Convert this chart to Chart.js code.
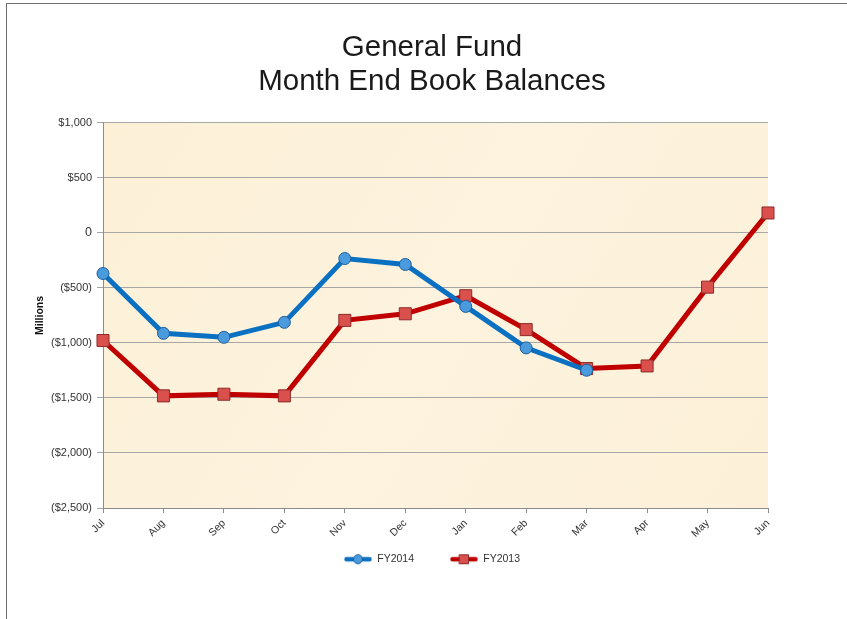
<!DOCTYPE html>
<html>
<head>
<meta charset="utf-8">
<title>General Fund - Month End Book Balances</title>
<script src="https://cdn.jsdelivr.net/npm/chart.js@4/dist/chart.umd.min.js"></script>
<style>
	body { margin: 0; background: #fff; }
	.moldura { position: absolute; left: 6px; top: 3px; width: 900px; height: 700px; border: 1px solid #6b6b6b; }
	.grafico { position: absolute; left: 0; top: 0; width: 847px; height: 619px; }
</style>
</head>
<body>
<div class="moldura"></div>
<div class="grafico"><canvas id="graficoSaldos" width="847" height="619"></canvas></div>
<script>
var meses = ['Jul', 'Aug', 'Sep', 'Oct', 'Nov', 'Dec', 'Jan', 'Feb', 'Mar', 'Apr', 'May', 'Jun'];
var fy2014 = [-369, -913, -949, -813, -233, -287, -668, -1045, -1248, null, null, null];
var fy2013 = [-978, -1481, -1466, -1481, -795, -735, -571, -879, -1233, -1209, -493, 181];
var eixoMin = -2500;
var eixoMax = 1000;
var eixoPasso = 500;

var GeneralFund = GeneralFund || {};

GeneralFund.GraficoSaldos = (function() {

	var fonte = 'Liberation Sans, Arial, sans-serif';

	function GraficoSaldos() {
		this.ctx = document.getElementById('graficoSaldos').getContext('2d');
	}

	GraficoSaldos.prototype.iniciar = function() {
		new Chart(this.ctx, {
			type: 'line',
			data: {
				labels: meses,
				datasets: [{
					label: 'FY2014',
					data: fy2014,
					borderColor: '#0a70c2',
					borderWidth: 5,
					pointStyle: 'circle',
					pointRadius: 6,
					pointBackgroundColor: '#4a9ade',
					pointBorderColor: '#1f5f98',
					pointBorderWidth: 1,
					tension: 0
				},
				{
					label: 'FY2013',
					data: fy2013,
					borderColor: '#c00000',
					borderWidth: 5,
					pointStyle: 'rect',
					pointRadius: 8.5,
					pointBackgroundColor: '#d9504d',
					pointBorderColor: '#8e2a2a',
					pointBorderWidth: 1,
					tension: 0
				}]
			},
			options: {
				responsive: false,
				animation: false,
				layout: { padding: { left: 17, right: 0, top: 3, bottom: 20 } },
				plugins: {
					title: {
						display: true,
						text: ['General Fund', 'Month End Book Balances'],
						color: '#1a1a1a',
						font: { family: fonte, size: 29.5, weight: 'normal', lineHeight: 1.15 },
						padding: { top: 28, bottom: 24 }
					},
					legend: {
						position: 'bottom',
						maxHeight: 56,
						labels: {
							usePointStyle: true,
							pointStyleWidth: 28,
							padding: 36,
							color: '#333',
							font: { family: fonte, size: 10.5 },
							generateLabels: geraLegenda
						}
					},
					tooltip: { enabled: false }
				},
				scales: {
					x: {
						offset: false,
						grid: { drawOnChartArea: false, drawTicks: true, tickLength: 5, color: '#8c8c8c' },
						border: { color: '#8c8c8c' },
						ticks: {
							minRotation: 45,
							maxRotation: 45,
							padding: 4,
							color: '#333',
							font: { family: fonte, size: 10.5 }
						},
						afterFit: function(scale) { scale.height = 35; }
					},
					y: {
						min: eixoMin,
						max: eixoMax,
						grid: { color: '#a6a6a6', tickLength: 6 },
						border: { color: '#8c8c8c' },
						title: {
							display: true,
							text: 'Millions',
							color: '#111',
							font: { family: fonte, size: 10.5, weight: 'bold' },
							padding: { top: 17, bottom: 0 }
						},
						ticks: {
							stepSize: eixoPasso,
							padding: 5,
							color: '#333',
							font: function(c) {
								return { family: fonte, size: (c.tick && c.tick.value === 0) ? 12.5 : 11 };
							},
							callback: formataMilhoes
						},
						afterFit: function(scale) { scale.width = 86; }
					},
					direita: {
						type: 'linear',
						position: 'right',
						display: true,
						grid: { display: false },
						border: { display: false },
						ticks: { display: false },
						afterFit: function(scale) { scale.width = 79; }
					}
				}
			},
			plugins: [fundoPergaminho, sobeLegenda]
		});
	};

	function formataMilhoes(valor) {
		if (valor === 0) return '0';
		var texto = '$' + Math.abs(valor).toLocaleString('en-US');
		return valor < 0 ? '(' + texto + ')' : texto;
	}

	// legenda no estilo linha + marcador
	function marcadorLegenda(cor, corPonto, corBorda, quadrado) {
		var c = document.createElement('canvas');
		c.width = 28;
		c.height = 12;
		var g = c.getContext('2d');
		g.strokeStyle = cor;
		g.lineWidth = 4.5;
		g.lineCap = 'round';
		g.beginPath();
		g.moveTo(2.5, 6);
		g.lineTo(25.5, 6);
		g.stroke();
		g.fillStyle = corPonto;
		g.strokeStyle = corBorda;
		g.lineWidth = 1;
		g.beginPath();
		if (quadrado) {
			g.rect(9.5, 1.5, 9, 9);
		} else {
			g.arc(14, 6, 4.5, 0, Math.PI * 2);
		}
		g.fill();
		g.stroke();
		return c;
	}

	function geraLegenda(chart) {
		var itens = Chart.defaults.plugins.legend.labels.generateLabels(chart);
		itens[0].pointStyle = marcadorLegenda('#0a70c2', '#4a9ade', '#1f5f98', false);
		itens[1].pointStyle = marcadorLegenda('#c00000', '#d9504d', '#8e2a2a', true);
		return itens;
	}

	var fundoPergaminho = {
		id: 'fundoPergaminho',
		beforeDraw: function(chart) {
			var a = chart.chartArea;
			var g = chart.ctx;
			g.save();
			var grad = g.createLinearGradient(a.left, a.top, a.right, a.bottom);
			grad.addColorStop(0, '#fcf0d7');
			grad.addColorStop(0.5, '#fdf3de');
			grad.addColorStop(1, '#fcf0d8');
			g.fillStyle = grad;
			g.fillRect(a.left, a.top, a.right - a.left, a.bottom - a.top);
			g.restore();
		}
	};

	// o padding grande da legenda empurra os itens para baixo; sobe a caixa para ficar logo abaixo dos rotulos
	var sobeLegenda = {
		id: 'sobeLegenda',
		afterLayout: function(chart) {
			var legenda = chart.legend;
			var alvo = chart.chartArea.bottom + 10;
			var d = legenda.top - alvo;
			legenda.top -= d;
			legenda.bottom -= d;
		}
	};

	return GraficoSaldos;

}());

(function() {
	var graficoSaldos = new GeneralFund.GraficoSaldos();
	graficoSaldos.iniciar();
})();
</script>
</body>
</html>
